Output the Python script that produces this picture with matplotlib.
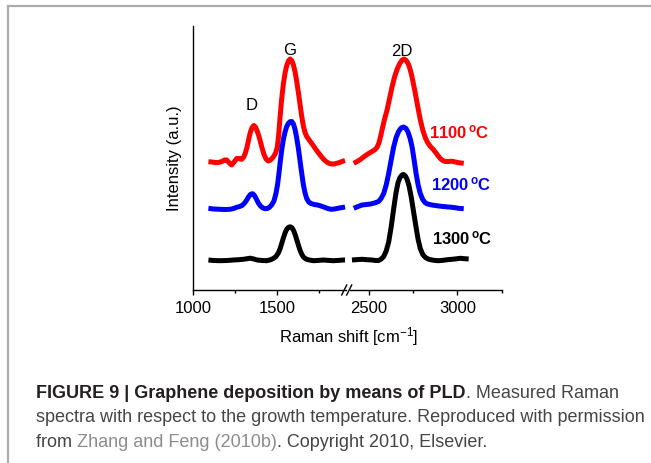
import matplotlib
matplotlib.use("Agg")
import matplotlib.pyplot as plt
from matplotlib.lines import Line2D

plt.rcParams['font.family'] = ['Liberation Sans', 'DejaVu Sans']
plt.rcParams['mathtext.fontset'] = 'custom'
plt.rcParams['mathtext.rm'] = 'Liberation Sans'
plt.rcParams['mathtext.bf'] = 'Liberation Sans:bold'
plt.rcParams['mathtext.default'] = 'regular'

# Raman spectra (offset intensity, arbitrary units)
# left segment: 1000-1900 cm-1, right segment: 2400-3100 cm-1
red_left_x = [1090, 1110, 1130, 1150, 1170, 1185, 1199, 1212, 1228, 1243, 1258, 1273, 1288, 1300,
              1310, 1320, 1330, 1340, 1350, 1360, 1370, 1380, 1390, 1400, 1410, 1421, 1433, 1446,
              1460, 1476, 1490, 1500, 1508, 1516, 1526, 1536, 1546, 1556, 1566, 1576, 1586, 1596,
              1606, 1615, 1625, 1635, 1645, 1655, 1665, 1675, 1690, 1705, 1720, 1734, 1750, 1764,
              1780, 1794, 1810, 1824, 1840, 1853, 1870, 1893, 1903]
red_left_y = [128.3, 128, 127.5, 127.5, 128.5, 130, 130, 127.5, 125, 128, 131.5, 131.5, 130.7, 133,
              137, 143, 151, 158, 162.5, 164.5, 163, 159, 154, 148, 141.5, 135.5, 131, 129,
              130, 133, 137, 143, 155, 172, 191, 206, 217, 224.5, 229, 231, 229.5, 225,
              218, 209, 198, 186, 174, 164, 157.5, 153.5, 150, 146.5, 143, 139.5, 136, 133,
              130, 128, 126.5, 126, 126, 126.7, 127.5, 129, 129.5]
red_right_x = [2416, 2435, 2453, 2472, 2491, 2505, 2519, 2533, 2547, 2558, 2568, 2578, 2590, 2604,
               2618, 2632, 2646, 2660, 2674, 2688, 2700, 2712, 2725, 2735, 2744, 2755, 2767, 2779,
               2791, 2805, 2820, 2834, 2848, 2862, 2876, 2890, 2904, 2918, 2932, 2950, 2970, 2990,
               3007, 3036]
red_right_y = [126.7, 128.5, 130.5, 133, 135.5, 137, 138.5, 140, 142.5, 147, 154, 162, 171, 180,
               191.5, 203, 213, 220.5, 226, 229.8, 231, 229.5, 225.5, 220, 213.5, 204, 193, 181.5,
               170.5, 160, 152, 147, 143.5, 141, 138, 134.5, 131.5, 129.5, 128.5, 128.5, 128.8, 128,
               127.3, 126.7]

blue_left_x = [1090, 1120, 1159, 1190, 1218, 1240, 1258, 1275, 1290, 1305, 1318, 1330, 1342, 1353,
               1364, 1375, 1387, 1400, 1414, 1428, 1440, 1452, 1466, 1480, 1492, 1502, 1510, 1518,
               1527, 1536, 1546, 1556, 1566, 1576, 1586, 1596, 1605, 1615, 1625, 1635, 1645, 1655,
               1665, 1675, 1687, 1700, 1720, 1740, 1760, 1780, 1800, 1820, 1840, 1860, 1880, 1903]
blue_left_y = [81.7, 81, 80.7, 80.5, 80.7, 81.5, 82.7, 83.5, 84.5, 87, 90, 93.5, 95.8, 96.3,
               94.5, 91, 87, 84, 82, 81.3, 81.5, 82.5, 85, 89, 96.5, 106, 117, 129,
               141, 150.5, 158, 163.5, 166.7, 168.3, 168.5, 166, 161, 152.5, 142, 129.5, 117, 105.5,
               97, 91.5, 88, 86.5, 85.5, 85, 84, 82.8, 81.5, 80.7, 81, 81.7, 82.3, 83]
blue_right_x = [2416, 2440, 2463, 2487, 2510, 2533, 2556, 2570, 2585, 2599, 2613, 2627, 2641, 2655,
                2669, 2683, 2697, 2710, 2722, 2734, 2745, 2756, 2767, 2779, 2791, 2805, 2820, 2838,
                2857, 2876, 2895, 2914, 2932, 2951, 2970, 2990, 3007, 3036]
blue_right_y = [81.7, 83.5, 85, 85.5, 86, 87, 88.5, 91.5, 96.5, 105, 116.5, 130, 143, 152.5,
                158.5, 162, 163, 161.7, 158, 151.5, 143, 130.5, 117, 105, 96.5, 90.5, 87, 85.7,
                85, 84.5, 84, 83.6, 83.3, 83, 82.7, 82.2, 81.7, 81.3]

black_left_x = [1090, 1120, 1159, 1200, 1238, 1270, 1298, 1320, 1340, 1360, 1380, 1410, 1436, 1456,
                1476, 1492, 1506, 1517, 1527, 1537, 1547, 1557, 1567, 1577, 1587, 1597, 1607, 1617,
                1627, 1637, 1647, 1657, 1670, 1690, 1715, 1745, 1774, 1805, 1833, 1865, 1893, 1903]
black_left_y = [30, 29.5, 29.3, 29.5, 30, 30.3, 30.7, 31.3, 31.8, 31, 30, 29.5, 29.3, 30,
                31.5, 33.5, 37, 41.5, 47, 52.5, 57.5, 61, 62.7, 63.2, 62.3, 59.5, 55, 49.5,
                44, 39, 35.3, 32.7, 31, 30, 29.3, 29.6, 30, 29.6, 29.3, 29.6, 30, 30]
black_right_x = [2406, 2435, 2463, 2490, 2519, 2538, 2556, 2570, 2585, 2599, 2613, 2627, 2641, 2654,
                 2666, 2677, 2688, 2697, 2707, 2716, 2728, 2741, 2754, 2767, 2779, 2791, 2805, 2820,
                 2838, 2857, 2876, 2895, 2914, 2932, 2950, 2970, 2995, 3017, 3040, 3064]
black_right_y = [30, 30.4, 30.7, 30.3, 30, 29.5, 29.5, 30.8, 33.5, 39, 48, 63, 81, 97,
                 107.5, 112.5, 115, 115.5, 114, 111, 104, 92, 77.5, 63, 50.5, 41.5, 35.5, 32.5,
                 30.8, 30, 29.5, 29.3, 29.6, 30, 30.4, 30.7, 31.2, 31.7, 31.3, 31]

temps = ['1100', '1200', '1300']
temp_colors = ['#ff0000', '#0000ff', '#000000']
temp_label_x = [2842, 2853, 2859]
temp_label_y = [152, 100, 46]

W, H = 651, 463
fig = plt.figure(figsize=(W / 100, H / 100), dpi=100)

bottom = (H - 290) / H
height = 264 / H
ax1 = fig.add_axes([193.3 / W, bottom, 152.9 / W, height])
ax2 = fig.add_axes([350 / W, bottom, 151.7 / W, height])

lw = 3.6
style = dict(lw=lw, solid_joinstyle='round', solid_capstyle='butt')
ax1.plot(red_left_x, red_left_y, color=temp_colors[0], **style)
ax1.plot(blue_left_x, blue_left_y, color=temp_colors[1], **style)
ax1.plot(black_left_x, black_left_y, color=temp_colors[2], **style)
ax2.plot(red_right_x, red_right_y, color=temp_colors[0], **style)
ax2.plot(blue_right_x, blue_right_y, color=temp_colors[1], **style)
ax2.plot(black_right_x, black_right_y, color=temp_colors[2], **style)

ax1.set_xlim(1000, 1910)
ax2.set_xlim(2395, 3250)
for ax in (ax1, ax2):
    ax.set_ylim(0, 264)
    ax.spines['top'].set_visible(False)
    ax.spines['right'].set_visible(False)
    ax.spines['bottom'].set_linewidth(1.0)
    ax.set_yticks([])
    ax.tick_params(axis='x', which='major', direction='out', length=3.5, width=1.0,
                   labelsize=12, pad=4.5)
    ax.tick_params(axis='x', which='minor', direction='out', length=2.2, width=1.0)
    ax.set_facecolor('none')
ax2.spines['left'].set_visible(False)
ax1.spines['left'].set_linewidth(1.0)

ax1.set_xticks([1000, 1500])
ax1.set_xticks([1250, 1750], minor=True)
ax2.set_xticks([2500, 3000])
ax2.set_xticks([2750, 3250], minor=True)

ax1.set_ylabel('Intensity (a.u.)', fontsize=12)
ax1.yaxis.set_label_coords(-0.075, 0.5)

# break marks "//" around the gap
px = 1 / 152.9
dy = 5 / 264
kw = dict(color='k', lw=1.0, clip_on=False)
ax1.plot([1 - 4.5 * px, 1 + 0.5 * px], [-dy, dy], transform=ax1.transAxes, **kw)
ax1.plot([1 + 0.5 * px, 1 + 5.5 * px], [-dy, dy], transform=ax1.transAxes, **kw)

fig.text(349 / W, (H - 342) / H, 'Raman shift [cm$^{-1}$]', fontsize=12, ha='center', va='baseline')

# peak labels
ax1.text(1348, 180, 'D', fontsize=12, ha='center', va='baseline')
ax1.text(1572, 235, 'G', fontsize=12, ha='center', va='baseline', clip_on=False)
ax2.text(2688, 234, '2D', fontsize=12, ha='center', va='baseline', clip_on=False)

for t, c, lx, ly in zip(temps, temp_colors, temp_label_x, temp_label_y):
    ax2.text(lx, ly, t + r'$^{\,o}$C', color=c, fontsize=12, fontweight='bold',
             ha='left', va='baseline', clip_on=False)

# frame lines of the figure panel
fig.add_artist(Line2D([8 / W, 1], [1 - 6 / H, 1 - 6 / H], color='#ababab', lw=1.6))
fig.add_artist(Line2D([8 / W, 8 / W], [0, 1 - 6 / H], color='#ababab', lw=1.6))

# caption
cs = 12.95
dark = '#231f20'
grey = '#454545'
link = '#8c8c8c'
c1 = fig.text(36 / W, (H - 398) / H, 'FIGURE 9 | Graphene deposition by means of PLD',
              fontsize=cs, fontweight='bold', color=dark, va='baseline')
ax1.annotate('. Measured Raman', xy=(1, 0), xycoords=c1, fontsize=cs, color=grey,
             va='bottom', ha='left', annotation_clip=False)
fig.text(36 / W, (H - 422.5) / H,
         'spectra with respect to the growth temperature. Reproduced with permission',
         fontsize=cs, color=grey, va='baseline')
c3 = fig.text(36 / W, (H - 447) / H, 'from ', fontsize=cs, color=grey, va='baseline')
c4 = ax1.annotate('Zhang and Feng (2010b)', xy=(1, 0), xycoords=c3, fontsize=cs, color=link,
                  va='bottom', ha='left', annotation_clip=False)
ax1.annotate('. Copyright 2010, Elsevier.', xy=(1, 0), xycoords=c4, fontsize=cs, color=grey,
             va='bottom', ha='left', annotation_clip=False)

plt.savefig('out.png', dpi=100)
